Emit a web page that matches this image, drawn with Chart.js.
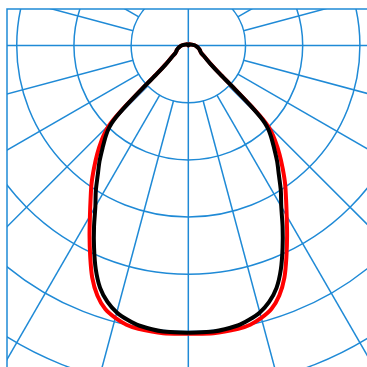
<!DOCTYPE html>
<html>
<head>
<meta charset="utf-8">
<script src="https://cdn.jsdelivr.net/npm/chart.js@4"></script>
<style>
  body { margin: 0; background: #fff; }
  #wrap { width: 367px; height: 367px; }
</style>
</head>
<body>
<div id="wrap"><canvas id="polar"></canvas></div>
<script>
// luminous intensity polar diagram (cd/klm), angle measured from nadir
const angles = [0, 5, 10, 12.5, 15, 17.5, 20, 22.5, 25, 27.5, 30, 32.5, 35, 37.5, 40, 42.5, 44, 45, 46, 47, 48, 50, 55, 60, 65, 70, 80, 90, 120, 150, 180];
const planeC0 = [504, 505, 503, 500, 493, 483, 465, 439, 406, 374, 344, 318, 295, 271, 248, 224, 208, 192, 154, 108, 75, 54, 35, 26, 23, 21, 16, 12, 4, 2, 0];
const planeC90 = [502, 502, 497, 491, 483, 470, 451, 423, 390, 357, 325, 301, 276, 255, 233, 213, 199, 184, 149, 105, 73, 52, 35, 26, 23, 21, 16, 12, 4, 2, 0];

const rings = [100, 200, 300, 400, 500, 600, 700, 800];
const spokes = [0, 15, 30, 45, 60, 75, 90, 105, 120, 135, 150, 165, 180, 195, 210, 225, 240, 255, 270, 285, 300, 315, 330, 345];

const gridColor = '#1f8ad6';

function toXY(deg, r, side) {
    const a = deg * Math.PI / 180;
    return { x: side * r * Math.sin(a), y: -r * Math.cos(a) };
}

// right half down->up, then left half back down
function curve(values) {
    const right = angles.map((t, i) => toXY(t, values[i], 1));
    const left = angles.map((t, i) => toXY(t, values[i], -1)).reverse();
    return right.concat(left.slice(1));
}

const polarGrid = {
    id: 'polarGrid',
    beforeDatasetsDraw(chart) {
        const { ctx, chartArea, scales } = chart;
        const cx = scales.x.getPixelForValue(0);
        const cy = scales.y.getPixelForValue(0);
        const unit = scales.x.getPixelForValue(100) - cx;
        ctx.save();
        ctx.beginPath();
        ctx.rect(chartArea.left, chartArea.top, chartArea.right - chartArea.left, chartArea.bottom - chartArea.top);
        ctx.clip();
        ctx.strokeStyle = gridColor;
        ctx.lineWidth = 1.5;

        rings.forEach(r => {
            ctx.beginPath();
            ctx.arc(cx, cy, r / 100 * unit, 0, Math.PI * 2);
            ctx.stroke();
        });

        spokes.forEach(deg => {
            const a = deg * Math.PI / 180;
            const start = (deg % 90 === 0) ? 0 : unit;
            const end = 12 * unit;
            ctx.beginPath();
            ctx.moveTo(cx + start * Math.sin(a), cy + start * Math.cos(a));
            ctx.lineTo(cx + end * Math.sin(a), cy + end * Math.cos(a));
            ctx.stroke();
        });
        ctx.restore();

        // frame, top and left edges
        ctx.save();
        ctx.strokeStyle = gridColor;
        ctx.lineWidth = 1.5;
        ctx.beginPath();
        ctx.moveTo(chartArea.right + 2, chartArea.top);
        ctx.lineTo(chartArea.left, chartArea.top);
        ctx.lineTo(chartArea.left, chartArea.bottom + 2);
        ctx.stroke();
        ctx.restore();
    }
};

new Chart(document.getElementById('polar'), {
    type: 'scatter',
    data: {
        datasets: [
            {
                label: 'C90-C270',
                data: curve(planeC90),
                showLine: true,
                borderColor: '#000000',
                borderWidth: 4,
                pointRadius: 0,
                tension: 0.3,
                borderJoinStyle: 'round'
            },
            {
                label: 'C0-C180',
                data: curve(planeC0),
                showLine: true,
                borderColor: '#ff0000',
                borderWidth: 4,
                pointRadius: 0,
                tension: 0.3,
                borderJoinStyle: 'round'
            }
        ]
    },
    options: {
        responsive: true,
        maintainAspectRatio: false,
        animation: false,
        layout: { padding: { left: 7, top: 9, right: 0, bottom: 0 } },
        plugins: { legend: { display: false }, tooltip: { enabled: false } },
        scales: {
            x: { type: 'linear', display: false, min: -317, max: 312.4 },
            y: { type: 'linear', display: false, min: -562, max: 63.8 }
        }
    },
    plugins: [polarGrid]
});
</script>
</body>
</html>
